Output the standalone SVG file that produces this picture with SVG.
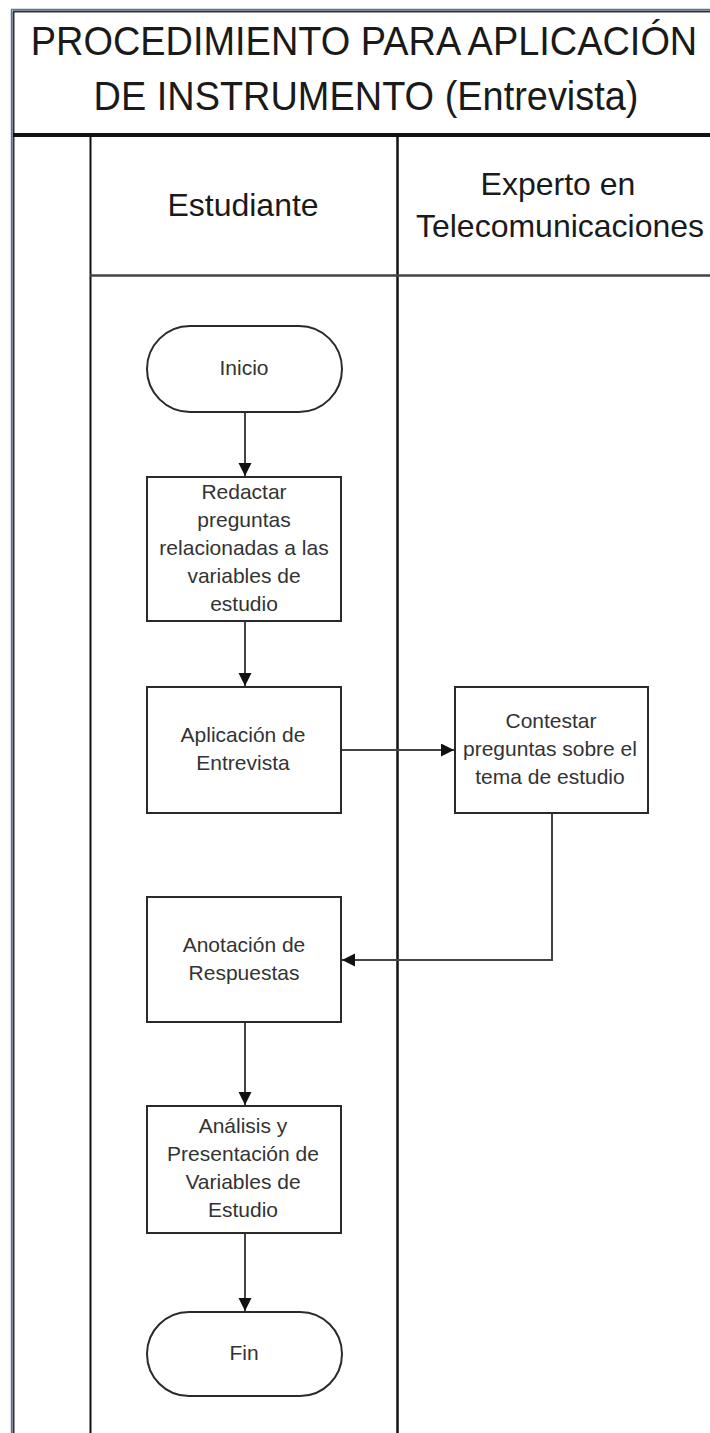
<svg xmlns="http://www.w3.org/2000/svg" width="710" height="1433" viewBox="0 0 710 1433">
<style>
  .t { font-family: "Liberation Sans", Arial, sans-serif; fill: #1a1a1a; text-anchor: middle; }
  .title { font-size: 41px; }
  .lane { font-size: 32px; }
  .n { font-size: 21px; fill: #333; }
  .box { fill: #fff; stroke: #2a2a2a; stroke-width: 2; }
  .conn { fill: none; stroke: #444; stroke-width: 2; }
  .frame { fill: none; stroke: #111; }
</style>
<defs>
  <marker id="arr" markerUnits="userSpaceOnUse" markerWidth="14" markerHeight="14" refX="13" refY="6.5" orient="auto">
    <path d="M0,0 L13,6.5 L0,13 Z" fill="#111"/>
  </marker>
</defs>
<rect width="710" height="1433" fill="#fff"/>
<g id="frame">
  <line x1="11.5" y1="9.5" x2="11.5" y2="1433" stroke="#4a78c0" stroke-width="1.5"/>
  <line x1="11" y1="9.5" x2="710" y2="9.5" stroke="#4a78c0" stroke-width="1.5"/>
  <line x1="13.5" y1="11.5" x2="13.5" y2="1433" stroke="#333" stroke-width="2"/>
  <line x1="13" y1="11.5" x2="710" y2="11.5" stroke="#333" stroke-width="2"/>
  <line class="frame" x1="13" y1="135" x2="710" y2="135" stroke-width="4"/>
  <line class="frame" x1="90.5" y1="135" x2="90.5" y2="1433" stroke-width="2"/>
  <line class="frame" x1="397.5" y1="135" x2="397.5" y2="1433" stroke-width="2.5"/>
  <line x1="90" y1="275.5" x2="710" y2="275.5" stroke="#444" stroke-width="2.5"/>
</g>
<g id="title">
  <text class="t title" transform="translate(364,55) scale(0.925,1)">PROCEDIMIENTO PARA APLICACIÓN</text>
  <text class="t title" transform="translate(366,110) scale(0.925,1)">DE INSTRUMENTO (Entrevista)</text>
</g>
<g id="lane-estudiante">
  <text class="t lane" x="243" y="216">Estudiante</text>
</g>
<g id="lane-experto">
  <text class="t lane" x="558" y="195">Experto en</text>
  <text class="t lane" x="560" y="237">Telecomunicaciones</text>
</g>
<g id="connectors">
  <line class="conn" x1="245" y1="412" x2="245" y2="476" marker-end="url(#arr)"/>
  <line class="conn" x1="245" y1="621" x2="245" y2="686" marker-end="url(#arr)"/>
  <line class="conn" x1="341" y1="750" x2="454" y2="750" marker-end="url(#arr)"/>
  <polyline class="conn" points="552,813 552,960 342,960" marker-end="url(#arr)"/>
  <line class="conn" x1="245" y1="1022" x2="245" y2="1105" marker-end="url(#arr)"/>
  <line class="conn" x1="245" y1="1233" x2="245" y2="1311" marker-end="url(#arr)"/>
</g>
<g id="inicio">
  <rect class="box" x="147" y="326" width="195" height="86" rx="43" ry="43"/>
  <text class="t n" x="244" y="375">Inicio</text>
</g>
<g id="redactar">
  <rect class="box" x="147" y="477" width="194" height="144"/>
  <text class="t n" x="244" y="499">Redactar</text>
  <text class="t n" x="244" y="527">preguntas</text>
  <text class="t n" x="244" y="555">relacionadas a las</text>
  <text class="t n" x="244" y="583">variables de</text>
  <text class="t n" x="244" y="611">estudio</text>
</g>
<g id="aplicacion">
  <rect class="box" x="147" y="687" width="194" height="126"/>
  <text class="t n" x="243" y="742">Aplicación de</text>
  <text class="t n" x="243" y="770">Entrevista</text>
</g>
<g id="contestar">
  <rect class="box" x="455" y="687" width="193" height="126"/>
  <text class="t n" x="551" y="728">Contestar</text>
  <text class="t n" x="550" y="756">preguntas sobre el</text>
  <text class="t n" x="550" y="784">tema de estudio</text>
</g>
<g id="anotacion">
  <rect class="box" x="147" y="897" width="194" height="125"/>
  <text class="t n" x="244" y="952">Anotación de</text>
  <text class="t n" x="244" y="980">Respuestas</text>
</g>
<g id="analisis">
  <rect class="box" x="147" y="1106" width="194" height="127"/>
  <text class="t n" x="243" y="1133">Análisis y</text>
  <text class="t n" x="243" y="1161">Presentación de</text>
  <text class="t n" x="243" y="1189">Variables de</text>
  <text class="t n" x="243" y="1217">Estudio</text>
</g>
<g id="fin">
  <rect class="box" x="147" y="1312" width="195" height="84" rx="42" ry="42"/>
  <text class="t n" x="244" y="1360">Fin</text>
</g>
</svg>
